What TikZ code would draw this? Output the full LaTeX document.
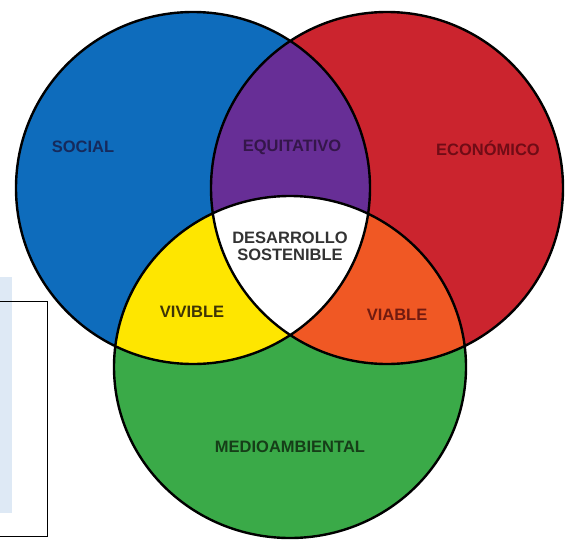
\documentclass[tikz,border=0pt]{standalone}
\usepackage{fontspec}
\setmainfont{Liberation Sans}
\usepackage{tikz}
\usepackage{xcolor}

\definecolor{socialblue}{RGB}{14,108,188}
\definecolor{econred}{RGB}{203,36,46}
\definecolor{envgreen}{RGB}{58,170,72}
\definecolor{equipurple}{RGB}{103,46,150}
\definecolor{vivyellow}{RGB}{254,230,0}
\definecolor{viaorange}{RGB}{240,88,36}
\definecolor{sidebg}{RGB}{222,233,245}
\definecolor{txtblue}{RGB}{22,42,92}
\definecolor{txtpurple}{RGB}{52,22,74}
\definecolor{txtred}{RGB}{112,12,22}
\definecolor{txtgreen}{RGB}{22,62,24}
\definecolor{txtyellow}{RGB}{62,52,6}
\definecolor{txtorange}{RGB}{112,26,16}

\tikzset{lbl/.style={font=\fontsize{16.5}{17}\selectfont\bfseries, align=center, inner sep=0pt}}

\begin{document}
\begin{tikzpicture}[x=1pt, y=-1pt, line width=2.4pt]
        \useasboundingbox (0,0) rectangle (570,541);

        % box at the left
        \fill[sidebg] (0,277) rectangle (12,513);
        \draw[line width=0.8pt] (0,301) -- (47,301) -- (47,536) -- (0,536);

        \def\social{(193,188) ellipse [x radius=177pt, y radius=176pt]}
        \def\econ{(387,188) ellipse [x radius=176pt, y radius=176pt]}
        \def\env{(290,367) ellipse [x radius=176pt, y radius=171pt]}

        \fill[socialblue] \social;
        \fill[econred] \econ;
        \fill[envgreen] \env;
        \begin{scope}
          \clip \social;
          \fill[equipurple] \econ;
          \fill[vivyellow] \env;
        \end{scope}
        \begin{scope}
          \clip \econ;
          \fill[viaorange] \env;
          \clip \social;
          \fill[white] \env;
        \end{scope}
        \draw \social \econ \env;

        \node[lbl, txtblue]   (soc) at ( 83, 147) {SOCIAL};
        \node[lbl, txtpurple] (equ) at (292, 147) {EQUITATIVO};
        \node[lbl, txtred]    (eco) at (488, 148) {ECONÓMICO};
        \node[lbl, black!80]  (des) at (290, 246) {DESARROLLO\\SOSTENIBLE};
        \node[lbl, txtyellow] (viv) at (192, 312) {VIVIBLE};
        \node[lbl, txtorange] (via) at (397, 315) {VIABLE};
        \node[lbl, txtgreen]  (med) at (290, 447) {MEDIOAMBIENTAL};

      \end{tikzpicture}
\end{document}
